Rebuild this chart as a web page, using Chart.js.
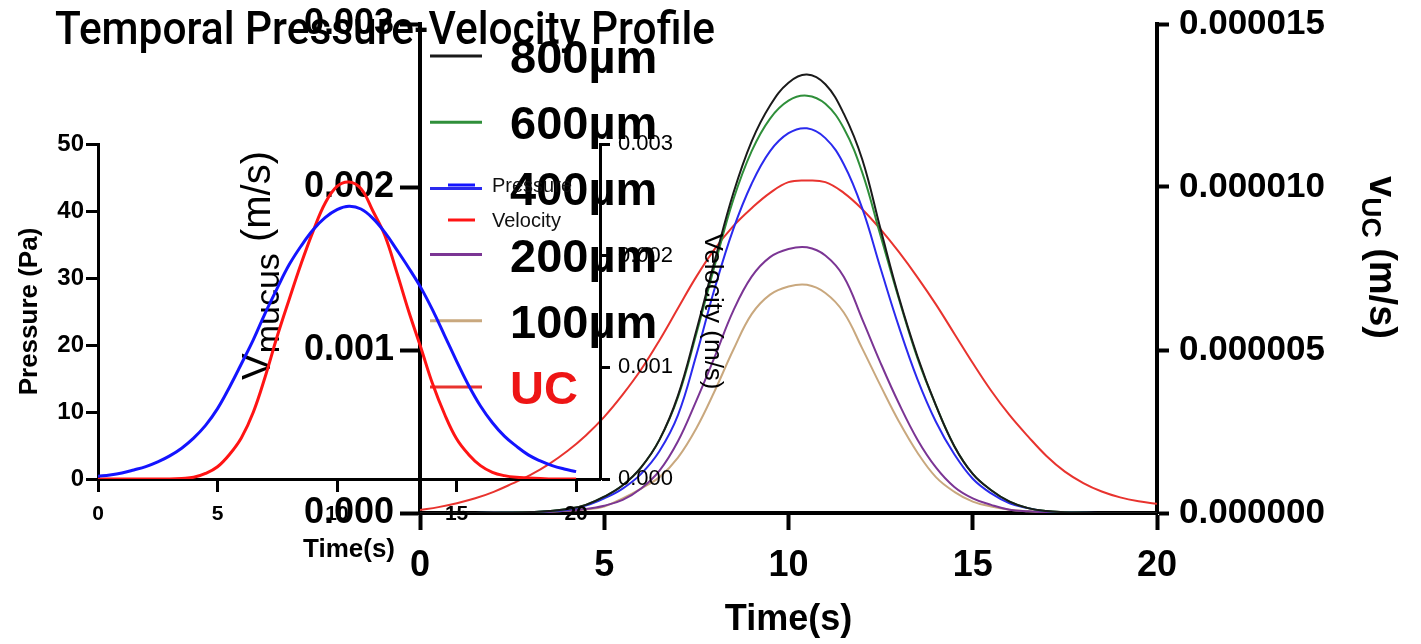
<!DOCTYPE html>
<html lang="en">
<head>
<meta charset="utf-8">
<title>Temporal Pressure-Velocity Profile</title>
<script src="https://cdn.jsdelivr.net/npm/chart.js@4.4.1/dist/chart.umd.min.js"></script>
<style>
  html, body { margin:0; padding:0; background:#ffffff; }
  #stage { position:relative; width:1421px; height:644px; overflow:hidden; background:#ffffff; }
  #bigChart { position:absolute; left:150px; top:0; }
  #smallChart { position:absolute; left:0; top:0; }
</style>
</head>
<body>
<div id="stage">
  <canvas id="bigChart" width="1271" height="644"></canvas>
  <canvas id="smallChart" width="728" height="575"></canvas>
</div>
<script>
// ---------------- data ----------------
const chartTitle = 'Temporal Pressure-Velocity Profile';

const times = [0,0.5,1,1.5,2,2.5,3,3.5,4,4.5,5,5.5,6,6.5,7,7.5,8,8.5,9,9.5,10,10.5,11,11.5,12,12.5,13,13.5,14,14.5,15,15.5,16,16.5,17,17.5,18,18.5,19,19.5,20];

// big chart tick values
const bigXTicks = [0,5,10,15,20];
const mucusTicks = [0,0.001,0.002,0.003];
const ucTicks = [0,0.000005,0.00001,0.000015];

// small chart tick values
const smallXTicks = [0,5,10,15,20];
const pressureTicks = [0,10,20,30,40,50];
const velocityTicks = [0,0.001,0.002,0.003];

// axis titles
const bigXTitle = 'Time(s)';
const leftAxisTitle = ['V','mucus',' (m/s)'];
const rightAxisTitle = ['v','UC',' (m/s)'];
const smallXTitle = 'Time(s)';
const pressureTitle = 'Pressure (Pa)';
const velocityTitle = 'Velocity (m/s)';

// mucus velocity (m/s) for each thickness
const mucusLabels = ['800µm','600µm','400µm','200µm','100µm'];
const mucus800 = [0,0,0,0,0.002e-3,0.003e-3,0.006e-3,0.012e-3,0.025e-3,0.05e-3,0.10e-3,0.17e-3,0.28e-3,0.45e-3,0.72e-3,1.12e-3,1.55e-3,1.96e-3,2.28e-3,2.50e-3,2.64e-3,2.69e-3,2.63e-3,2.45e-3,2.17e-3,1.74e-3,1.32e-3,0.96e-3,0.66e-3,0.41e-3,0.24e-3,0.14e-3,0.07e-3,0.03e-3,0.012e-3,0.005e-3,0.002e-3,0,0,0,0];
const mucus600 = [0,0,0,0,0.002e-3,0.003e-3,0.006e-3,0.012e-3,0.025e-3,0.05e-3,0.10e-3,0.17e-3,0.28e-3,0.45e-3,0.71e-3,1.10e-3,1.52e-3,1.92e-3,2.22e-3,2.42e-3,2.53e-3,2.56e-3,2.51e-3,2.36e-3,2.09e-3,1.70e-3,1.31e-3,0.95e-3,0.66e-3,0.41e-3,0.24e-3,0.14e-3,0.07e-3,0.03e-3,0.012e-3,0.005e-3,0.002e-3,0,0,0,0];
const mucus400 = [0,0,0,0,0.002e-3,0.003e-3,0.005e-3,0.01e-3,0.02e-3,0.045e-3,0.09e-3,0.15e-3,0.24e-3,0.38e-3,0.60e-3,0.97e-3,1.38e-3,1.74e-3,2.02e-3,2.22e-3,2.33e-3,2.36e-3,2.30e-3,2.14e-3,1.87e-3,1.50e-3,1.14e-3,0.82e-3,0.56e-3,0.36e-3,0.21e-3,0.12e-3,0.06e-3,0.03e-3,0.01e-3,0.004e-3,0.001e-3,0,0,0,0];
const mucus200 = [0,0,0,0,0.001e-3,0.002e-3,0.004e-3,0.008e-3,0.015e-3,0.025e-3,0.045e-3,0.08e-3,0.15e-3,0.26e-3,0.44e-3,0.69e-3,0.96e-3,1.24e-3,1.45e-3,1.57e-3,1.62e-3,1.63e-3,1.58e-3,1.45e-3,1.19e-3,0.92e-3,0.67e-3,0.45e-3,0.28e-3,0.16e-3,0.09e-3,0.05e-3,0.02e-3,0.01e-3,0.004e-3,0.001e-3,0,0,0,0,0];
const mucus100 = [0,0,0,0,0.001e-3,0.002e-3,0.004e-3,0.008e-3,0.014e-3,0.022e-3,0.04e-3,0.09e-3,0.15e-3,0.22e-3,0.34e-3,0.52e-3,0.75e-3,1.00e-3,1.22e-3,1.34e-3,1.39e-3,1.40e-3,1.35e-3,1.23e-3,1.01e-3,0.78e-3,0.56e-3,0.37e-3,0.22e-3,0.13e-3,0.07e-3,0.04e-3,0.02e-3,0.01e-3,0.004e-3,0.001e-3,0,0,0,0,0];

// UC velocity (m/s)
const ucLabel = 'UC';
const ucVelocity = [0.09e-6,0.18e-6,0.30e-6,0.45e-6,0.65e-6,0.90e-6,1.17e-6,1.50e-6,1.90e-6,2.38e-6,2.95e-6,3.63e-6,4.40e-6,5.30e-6,6.28e-6,7.25e-6,8.10e-6,8.80e-6,9.35e-6,9.82e-6,10.15e-6,10.20e-6,10.15e-6,9.82e-6,9.32e-6,8.70e-6,8.00e-6,7.23e-6,6.40e-6,5.50e-6,4.60e-6,3.75e-6,3.00e-6,2.35e-6,1.75e-6,1.27e-6,0.92e-6,0.66e-6,0.48e-6,0.36e-6,0.28e-6];

// small chart: pressure (Pa) and velocity (m/s)
const smallLabels = ['Pressure','Velocity'];
const pressure = [0.4,0.6,0.9,1.35,1.85,2.55,3.45,4.6,6.1,8.0,10.5,13.7,17.2,20.8,24.8,28.5,32.0,34.8,37.2,39.0,40.2,40.7,40.3,38.9,36.8,34.2,31.5,28.6,25.2,21.4,17.6,14.0,10.9,8.4,6.4,4.9,3.6,2.7,2.0,1.5,1.1];
const velocity = [0,0,0,0,0,0,0,0.005e-3,0.015e-3,0.05e-3,0.11e-3,0.22e-3,0.37e-3,0.60e-3,0.92e-3,1.28e-3,1.61e-3,1.93e-3,2.22e-3,2.47e-3,2.62e-3,2.66e-3,2.60e-3,2.40e-3,2.18e-3,1.85e-3,1.50e-3,1.18e-3,0.85e-3,0.58e-3,0.36e-3,0.22e-3,0.12e-3,0.06e-3,0.03e-3,0.015e-3,0.01e-3,0.005e-3,0,0,0];

// ---------------- styles ----------------
const FONT = '"Liberation Sans", Arial, Helvetica, sans-serif';
const mucusColors = ['#1a1a1a','#2f8f3a','#2a2aee','#7b3594','#c9a87e'];
const ucColor = '#e8332e';
const ucTextColor = '#ee1515';
const pressureColor = '#1414ff';
const velocityColor = '#ff1414';
const TENSION = 0.4;

Chart.defaults.font.family = FONT;
Chart.defaults.color = '#000';

function pts(vals) { return times.map((t, i) => ({ x: t, y: vals[i] })); }
function fixedTicks(list) { return (scale) => { scale.ticks = list.map(v => ({ value: v })); }; }

function drawRich(ctx, cx, cy, rot, parts) {
  ctx.save();
  ctx.translate(cx, cy);
  ctx.rotate(rot);
  ctx.fillStyle = '#000';
  ctx.textBaseline = 'alphabetic';
  ctx.textAlign = 'left';
  let total = 0;
  parts.forEach(p => { ctx.font = p.f; p.w = ctx.measureText(p.t).width; total += p.w; });
  let x = -total / 2;
  parts.forEach(p => { ctx.font = p.f; ctx.fillText(p.t, x, p.dy); x += p.w; });
  ctx.restore();
}

// ---------------- big chart ----------------
const bigDecor = {
  id: 'bigDecor',
  afterDraw(chart) {
    const { ctx, chartArea: ca } = chart;
    ctx.save();
    const items = mucusLabels.map((l, i) => ({ label: l, color: mucusColors[i], text: '#000' }))
      .concat([{ label: ucLabel, color: ucColor, text: ucTextColor }]);
    ctx.font = `bold 47px ${FONT}`;
    ctx.textBaseline = 'alphabetic';
    ctx.textAlign = 'left';
    items.forEach((it, i) => {
      const y = ca.top + 32 + i * 66.2;
      ctx.strokeStyle = it.color;
      ctx.lineWidth = 3;
      ctx.beginPath(); ctx.moveTo(ca.left + 10, y); ctx.lineTo(ca.left + 62, y); ctx.stroke();
      ctx.fillStyle = it.text;
      ctx.fillText(it.label, ca.left + 90, y + 17);
    });
    drawRich(ctx, ca.left - 158, (ca.top + ca.bottom) / 2 - 3, -Math.PI / 2, [
      { t: leftAxisTitle[0], f: `40px ${FONT}`, dy: 8 },
      { t: leftAxisTitle[1], f: `34px ${FONT}`, dy: 17 },
      { t: leftAxisTitle[2], f: `40px ${FONT}`, dy: 8 }
    ]);
    drawRich(ctx, ca.right + 225, (ca.top + ca.bottom) / 2 - 11, Math.PI / 2, [
      { t: rightAxisTitle[0], f: `bold 38px ${FONT}`, dy: 12 },
      { t: rightAxisTitle[1], f: `bold 28px ${FONT}`, dy: 20 },
      { t: rightAxisTitle[2], f: `bold 38px ${FONT}`, dy: 12 }
    ]);
    ctx.restore();
  }
};

const mucusSeries = [mucus800, mucus600, mucus400, mucus200, mucus100];
const bigDatasets = mucusSeries.map((vals, i) => ({
  label: mucusLabels[i], data: pts(vals), borderColor: mucusColors[i], borderWidth: 2,
  pointRadius: 0, tension: TENSION, fill: false, yAxisID: 'yMucus'
}));
bigDatasets.push({
  label: ucLabel, data: pts(ucVelocity), borderColor: ucColor, borderWidth: 2,
  pointRadius: 0, tension: TENSION, fill: false, yAxisID: 'yUC'
});

new Chart(document.getElementById('bigChart'), {
  type: 'line',
  data: { datasets: bigDatasets },
  options: {
    responsive: false, animation: false, devicePixelRatio: 1,
    layout: { padding: { top: 24, left: 0, right: 0, bottom: 0 } },
    plugins: { legend: { display: false }, tooltip: { enabled: false }, title: { display: false } },
    scales: {
      x: {
        type: 'linear', min: 0, max: 20,
        afterBuildTicks: fixedTicks(bigXTicks),
        afterFit: s => { s.height = 131; s.paddingLeft = 0; s.paddingRight = 0; },
        grid: { drawOnChartArea: false, tickLength: 17, tickWidth: 4, tickColor: '#000' },
        border: { width: 4, color: '#000' },
        ticks: { autoSkip: false, maxRotation: 0, color: '#000', padding: 14,
                 font: { size: 36, weight: 'bold' } },
        title: { display: true, text: bigXTitle, color: '#000',
                 font: { size: 36, weight: 'bold' }, padding: { top: 0, bottom: 2 } }
      },
      yMucus: {
        type: 'linear', position: 'left', min: 0, max: 0.003,
        afterBuildTicks: fixedTicks(mucusTicks),
        afterFit: s => { s.width = 270; s.paddingTop = 0; s.paddingBottom = 0; },
        grid: { drawOnChartArea: false, tickLength: 20, tickWidth: 4, tickColor: '#000' },
        border: { width: 4, color: '#000' },
        ticks: { autoSkip: false, color: '#000', padding: 6, font: { size: 36, weight: 'bold' },
                 callback: v => Number(v).toFixed(3) }
      },
      yUC: {
        type: 'linear', position: 'right', min: 0, max: 0.000015,
        afterBuildTicks: fixedTicks(ucTicks),
        afterFit: s => { s.width = 264; s.paddingTop = 0; s.paddingBottom = 0; },
        grid: { drawOnChartArea: false, tickLength: 12, tickWidth: 4, tickColor: '#000' },
        border: { width: 4, color: '#000' },
        ticks: { autoSkip: false, color: '#000', padding: 10, font: { size: 35, weight: 'bold' },
                 callback: v => Number(v).toFixed(6) }
      }
    }
  },
  plugins: [bigDecor]
});

// ---------------- small chart ----------------
const smallDecor = {
  id: 'smallDecor',
  afterDraw(chart) {
    const { ctx, chartArea: ca } = chart;
    ctx.save();
    const cols = [pressureColor, velocityColor];
    ctx.font = `20px ${FONT}`;
    ctx.textBaseline = 'alphabetic';
    ctx.textAlign = 'left';
    smallLabels.forEach((lab, i) => {
      const y = ca.top + 41 + i * 35;
      ctx.strokeStyle = cols[i];
      ctx.lineWidth = 3;
      ctx.beginPath(); ctx.moveTo(ca.left + 350, y); ctx.lineTo(ca.left + 377, y); ctx.stroke();
      ctx.fillStyle = '#111';
      ctx.fillText(lab, ca.left + 394, y + 7);
    });
    // overall title
    ctx.font = `500 46px Roboto, "Noto Sans", sans-serif`;
    const w = ctx.measureText(chartTitle).width;
    ctx.translate(55, 44);
    ctx.scale(660 / w, 1);
    ctx.fillStyle = '#000';
    ctx.fillText(chartTitle, 0, 0);
    ctx.restore();
  }
};

new Chart(document.getElementById('smallChart'), {
  type: 'line',
  data: {
    datasets: [
      { label: smallLabels[0], data: pts(pressure), borderColor: pressureColor, borderWidth: 3,
        pointRadius: 0, tension: TENSION, fill: false, yAxisID: 'yP' },
      { label: smallLabels[1], data: pts(velocity), borderColor: velocityColor, borderWidth: 3,
        pointRadius: 0, tension: TENSION, fill: false, yAxisID: 'yV' }
    ]
  },
  options: {
    responsive: false, animation: false, devicePixelRatio: 1,
    layout: { padding: { top: 144, left: 0, right: 0, bottom: 0 } },
    plugins: { legend: { display: false }, tooltip: { enabled: false }, title: { display: false } },
    scales: {
      x: {
        type: 'linear', min: 0, max: 21,
        afterBuildTicks: fixedTicks(smallXTicks),
        afterFit: s => { s.height = 96; },
        grid: { drawOnChartArea: false, tickLength: 13, tickWidth: 3, tickColor: '#000' },
        border: { width: 3, color: '#000' },
        ticks: { autoSkip: false, maxRotation: 0, color: '#000', padding: 10,
                 font: { size: 21, weight: 'bold' } },
        title: { display: true, text: smallXTitle, color: '#000',
                 font: { size: 26, weight: 'bold' }, padding: { top: 0, bottom: 10 } }
      },
      yP: {
        type: 'linear', position: 'left', min: 0, max: 50,
        afterBuildTicks: fixedTicks(pressureTicks),
        afterFit: s => { s.width = 98; },
        grid: { drawOnChartArea: false, tickLength: 12, tickWidth: 3, tickColor: '#000' },
        border: { width: 3, color: '#000' },
        ticks: { autoSkip: false, color: '#000', padding: 2, font: { size: 24, weight: 'bold' } },
        title: { display: true, text: pressureTitle, color: '#000',
                 font: { size: 26, weight: 'bold' }, padding: { top: 14, bottom: 0 } }
      },
      yV: {
        type: 'linear', position: 'right', min: 0, max: 0.003,
        afterBuildTicks: fixedTicks(velocityTicks),
        afterFit: s => { s.width = 128; },
        grid: { drawOnChartArea: false, tickLength: 10, tickWidth: 3, tickColor: '#000' },
        border: { width: 3, color: '#000' },
        ticks: { autoSkip: false, color: '#000', padding: 8, font: { size: 22 },
                 callback: v => Number(v).toFixed(3) },
        title: { display: true, text: velocityTitle, color: '#000',
                 font: { size: 26 }, padding: { top: 0, bottom: 0 } }
      }
    }
  },
  plugins: [smallDecor]
});
</script>
</body>
</html>
